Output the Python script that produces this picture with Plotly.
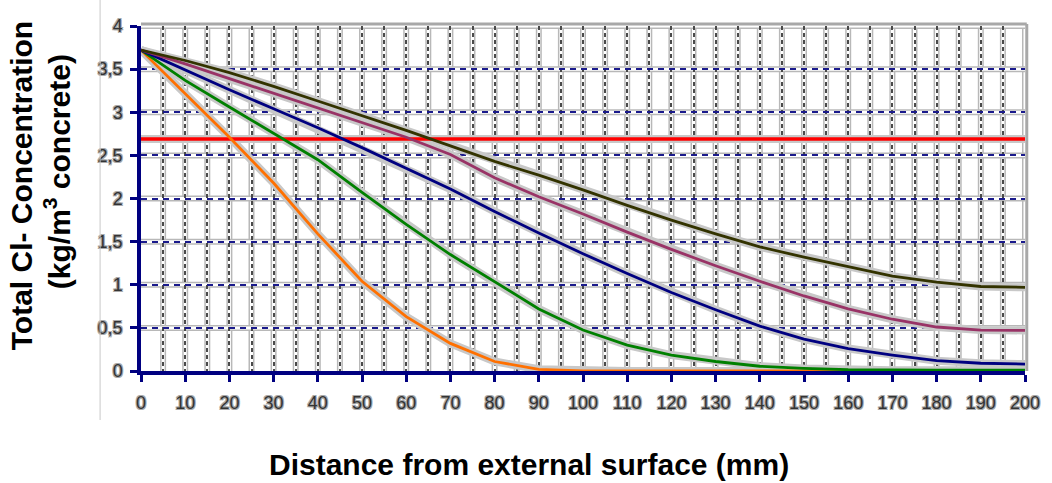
import plotly.graph_objects as go

# ---------------- data ----------------
distance_mm = [0, 10, 20, 30, 40, 50, 60, 70, 80, 90, 100,
               110, 120, 130, 140, 150, 160, 170, 180, 190, 200]

orange_vals = [3.72, 3.22, 2.71, 2.18, 1.59, 1.04, 0.63, 0.32, 0.11, 0.02, 0.0,
               0.0, 0.0, 0.0, 0.0, 0.0, 0.0, 0.0, 0.0, 0.0, 0.0]
green_vals = [3.72, 3.37, 3.06, 2.76, 2.45, 2.07, 1.70, 1.35, 1.03, 0.72, 0.475,
              0.30, 0.185, 0.11, 0.055, 0.03, 0.015, 0.01, 0.01, 0.01, 0.01]
blue_vals = [3.72, 3.49, 3.26, 3.04, 2.82, 2.59, 2.35, 2.11, 1.85, 1.60, 1.36,
             1.13, 0.91, 0.71, 0.52, 0.37, 0.26, 0.185, 0.12, 0.09, 0.08]
purple_vals = [3.72, 3.56, 3.39, 3.22, 3.05, 2.88, 2.71, 2.51, 2.24, 2.02, 1.82,
               1.61, 1.41, 1.22, 1.04, 0.87, 0.72, 0.60, 0.51, 0.475, 0.47]
olive_vals = [3.72, 3.60, 3.46, 3.30, 3.13, 2.96, 2.79, 2.61, 2.43, 2.27, 2.10,
              1.92, 1.75, 1.59, 1.44, 1.32, 1.21, 1.10, 1.03, 0.98, 0.97]

threshold_x = [0, 200]
threshold_y = [2.69, 2.69]

x_ticks = list(range(0, 201, 10))
x_grid = list(range(0, 201, 5))
y_ticks = [0, 0.5, 1, 1.5, 2, 2.5, 3, 3.5, 4]
y_tick_labels = ["0", "0,5", "1", "1,5", "2", "2,5", "3", "3,5", "4"]

y_title_1 = "Total Cl- Concentration"
y_title_2 = "(kg/m<sup>3</sup> concrete)"
x_title = "Distance from external surface (mm)"

# ---------------- styling ----------------
W, H = 1052, 483
ML, MR, MT, MB = 141, 25, 26, 112
PW, PH = W - ML - MR, H - MT - MB

HALO = "#c8c8c8"
series = [
    (orange_vals, "#FF7000"),
    (green_vals, "#008000"),
    (blue_vals, "#000080"),
    (purple_vals, "#993366"),
    (olive_vals, "#333300"),
]

fig = go.Figure()

# halos of curves
fig.add_trace(go.Scatter(x=threshold_x, y=threshold_y, mode="lines",
                         line=dict(color=HALO, width=8), hoverinfo="skip"))
for vals, col in series:
    fig.add_trace(go.Scatter(x=distance_mm, y=vals, mode="lines",
                             line=dict(color=HALO, width=8), hoverinfo="skip"))
# threshold line
fig.add_trace(go.Scatter(x=threshold_x, y=threshold_y, mode="lines",
                         line=dict(color="#FF0000", width=3.5)))
# curves
for vals, col in series:
    fig.add_trace(go.Scatter(x=distance_mm, y=vals, mode="lines",
                             line=dict(color=col, width=2.8)))

shapes = []
# grid halos (outline effect): gray band with white core, below gridlines
for gx in x_grid[1:]:
    shapes.append(dict(type="line", xref="x", yref="paper", x0=gx, x1=gx, y0=0, y1=1,
                       line=dict(color="#b8b8b8", width=6), layer="below"))
    shapes.append(dict(type="line", xref="x", yref="paper", x0=gx, x1=gx, y0=0, y1=1,
                       line=dict(color="#ffffff", width=3), layer="below"))
for gy in y_ticks[1:]:
    shapes.append(dict(type="line", xref="paper", yref="y", x0=0, x1=1, y0=gy, y1=gy,
                       line=dict(color="#b8b8b8", width=6), layer="below"))
    shapes.append(dict(type="line", xref="paper", yref="y", x0=0, x1=1, y0=gy, y1=gy,
                       line=dict(color="#ffffff", width=3), layer="below"))
# top and right frame
shapes.append(dict(type="line", xref="paper", yref="paper", x0=0, x1=1.002, y0=1.006, y1=1.006,
                   line=dict(color="#a8a8a8", width=3)))
shapes.append(dict(type="line", xref="paper", yref="paper", x0=1.002, x1=1.002, y0=0, y1=1.006,
                   line=dict(color="#a8a8a8", width=3)))
# faint screenshot border on the left
shapes.append(dict(type="line", xref="paper", yref="paper",
                   x0=(100 - ML) / PW, x1=(100 - ML) / PW,
                   y0=(MT + PH - 420) / PH, y1=(MT + PH) / PH,
                   line=dict(color="#c8c8c8", width=1)))

tick_shadow = "1px 1px 0 #a8a8a8, -1px -1px 0 #a8a8a8, 1px -1px 0 #a8a8a8, -1px 1px 0 #a8a8a8"
tickfont = dict(family="Liberation Sans, Arial, sans-serif", size=18, color="#333333",
                shadow=tick_shadow)

title_font = dict(family="Liberation Sans, Arial, sans-serif", size=30,
                  color="#000000", weight="bold")

fig.update_layout(
    width=W, height=H,
    margin=dict(l=ML, r=MR, t=MT, b=MB),
    paper_bgcolor="white", plot_bgcolor="white",
    showlegend=False,
    shapes=shapes,
    xaxis=dict(
        range=[0, 200], tickmode="array", tickvals=x_ticks,
        ticktext=[str(v) for v in x_ticks],
        showgrid=True, gridcolor="#4a4a4a", gridwidth=2, griddash="4px,3px",
        minor=dict(dtick=5, tick0=0, showgrid=True, gridcolor="#4a4a4a",
                   gridwidth=2, griddash="4px,3px", ticks=""),
        showline=True, linecolor="#000080", linewidth=3.5,
        ticks="outside", ticklen=7, tickwidth=3, tickcolor="#000080",
        tickfont=tickfont, ticklabelstandoff=6, zeroline=False,
    ),
    yaxis=dict(
        range=[0, 4], tickmode="array", tickvals=y_ticks, ticktext=y_tick_labels,
        showgrid=True, gridcolor="#1a1a8c", gridwidth=1.5, griddash="6px,5px",
        showline=True, linecolor="#000080", linewidth=3.5,
        ticks="outside", ticklen=7, tickwidth=3, tickcolor="#000080",
        tickfont=tickfont, ticklabelstandoff=4, zeroline=False,
    ),
    annotations=[
        dict(text=y_title_1, xref="paper", yref="paper",
             x=(22 - ML) / PW, y=(MT + PH - 186) / PH, xanchor="center", yanchor="middle",
             textangle=-90, showarrow=False, font=title_font),
        dict(text=y_title_2, xref="paper", yref="paper",
             x=(57 - ML) / PW, y=(MT + PH - 172) / PH, xanchor="center", yanchor="middle",
             textangle=-90, showarrow=False, font=title_font),
        dict(text=x_title, xref="paper", yref="paper",
             x=(530 - ML) / PW, y=(MT + PH - 464) / PH, xanchor="center", yanchor="middle",
             showarrow=False, font=title_font),
    ],
)

fig.write_html("out.html")
